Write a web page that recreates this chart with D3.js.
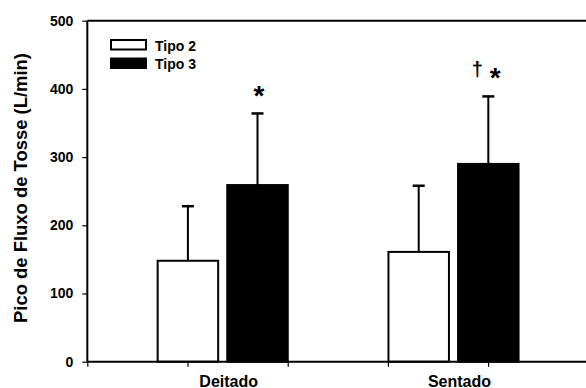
<!DOCTYPE html>
<html>
<head>
<meta charset="utf-8">
<script src="https://cdn.jsdelivr.net/npm/d3@7"></script>
<style>
  body { margin: 0; background: #fff; }
  svg { display: block; font-family: "Liberation Sans", Arial, sans-serif; font-weight: bold; }
</style>
</head>
<body>
<svg id="chart" width="586" height="388"></svg>
<script>
// ---- data ----
const categories = ["Deitado", "Sentado"];
const seriesNames = ["Tipo 2", "Tipo 3"];
const tipo2Mean = [148, 161];
const tipo2SD = [80, 97];
const tipo3Mean = [259, 290];
const tipo3SD = [105, 99];
const yTicks = [0, 100, 200, 300, 400, 500];
const annotations = [["*"], ["†", "*"]];

(function () {
const svg = d3.select("#chart");
const pLeft = 87.3, pRight = 588.3, pTop = 20.7, pBottom = 361.7;

const y = d3.scaleLinear().domain([0, 500]).range([pBottom, pTop]);
const xAxisScale = d3.scaleLinear().domain([0, 5]).range([pLeft, pRight]);
const xGroup = d3.scalePoint().domain(categories).range([222.7, 453.5]);
const xSeries = d3.scalePoint().domain(seriesNames).range([-34.8, 34.8]);
const barW = 61.5;
const fills = { "Tipo 2": "#fff", "Tipo 3": "#000" };

const rows = [];
categories.forEach((c, i) => {
  rows.push({ cat: c, s: "Tipo 2", v: tipo2Mean[i], e: tipo2SD[i] });
  rows.push({ cat: c, s: "Tipo 3", v: tipo3Mean[i], e: tipo3SD[i] });
});
const cx = d => xGroup(d.cat) + xSeries(d.s);

// error bars (upward only)
const eb = svg.append("g");
eb.selectAll("line.v").data(rows).join("line").attr("class", "v")
  .attr("x1", cx).attr("x2", cx)
  .attr("y1", d => y(d.v)).attr("y2", d => y(d.v + d.e))
  .attr("stroke", "#000").attr("stroke-width", 2);
eb.selectAll("line.c").data(rows).join("line").attr("class", "c")
  .attr("x1", d => cx(d) - 6).attr("x2", d => cx(d) + 6)
  .attr("y1", d => y(d.v + d.e)).attr("y2", d => y(d.v + d.e))
  .attr("stroke", "#000").attr("stroke-width", 2.5);

// bars
svg.append("g").selectAll("rect").data(rows).join("rect")
  .attr("x", d => cx(d) - barW / 2 + 0.5)
  .attr("width", barW - 1)
  .attr("y", d => y(d.v))
  .attr("height", d => y(0) - y(d.v))
  .attr("fill", d => fills[d.s])
  .attr("stroke", "#000").attr("stroke-width", 2);

// frame top line
svg.append("line").attr("x1", pLeft).attr("x2", pRight).attr("y1", pTop).attr("y2", pTop)
  .attr("stroke", "#000").attr("stroke-width", 2);

// y axis
const yAxis = svg.append("g").attr("transform", `translate(${pLeft},0)`)
  .call(d3.axisLeft(y).tickValues(yTicks).tickSize(5).tickPadding(9).tickFormat(d3.format("d")));
yAxis.select(".domain").attr("stroke-width", 2).attr("d", `M0,${pTop}V${pBottom}`);
yAxis.selectAll(".tick line").attr("stroke-width", 1.2);
yAxis.selectAll("text").attr("font-size", 14).attr("font-weight", "bold")
  .attr("font-family", "Liberation Sans, Arial, sans-serif").attr("fill", "#000");

// x axis
const xAxis = svg.append("g").attr("transform", `translate(0,${pBottom})`)
  .call(d3.axisBottom(xAxisScale).ticks(5).tickSize(5).tickFormat(""));
xAxis.select(".domain").attr("stroke-width", 2).attr("d", `M${pLeft},0H${pRight}`);
xAxis.selectAll(".tick line").attr("stroke-width", 1.2);

// category labels
svg.append("g").selectAll("text").data(categories).join("text")
  .attr("x", d => xGroup(d) + 6).attr("y", 386.5)
  .attr("text-anchor", "middle").attr("font-size", 16).text(d => d);

// y axis title
svg.append("text")
  .attr("transform", `translate(27,188) rotate(-90)`)
  .attr("text-anchor", "middle").attr("font-size", 18)
  .attr("textLength", 270).attr("lengthAdjust", "spacingAndGlyphs")
  .text("Pico de Fluxo de Tosse (L/min)");

// legend
const leg = svg.append("g");
seriesNames.forEach((s, i) => {
  leg.append("rect").attr("x", 111).attr("y", 40 + i * 18.5).attr("width", 35).attr("height", 9.5)
    .attr("fill", fills[s]).attr("stroke", "#000").attr("stroke-width", 2);
  leg.append("text").attr("x", 155).attr("y", 50.5 + i * 18.2).attr("font-size", 14).text(s);
});

// significance annotations above Tipo 3 bars
categories.forEach((c, i) => {
  const d = rows.find(r => r.cat === c && r.s === "Tipo 3");
  const ty = y(d.v + d.e);
  const marks = annotations[i];
  if (marks.length === 1) {
    svg.append("text").attr("x", cx(d) + 1.5).attr("y", ty - 8.5)
      .attr("text-anchor", "middle").attr("font-size", 28).text(marks[0]);
  } else {
    svg.append("text").attr("x", cx(d) - 11).attr("y", ty - 20.5)
      .attr("text-anchor", "middle").attr("font-size", 20).text(marks[0]);
    svg.append("text").attr("x", cx(d) + 7).attr("y", ty - 9.5)
      .attr("text-anchor", "middle").attr("font-size", 28).text(marks[1]);
  }
});
})();
</script>
</body>
</html>
